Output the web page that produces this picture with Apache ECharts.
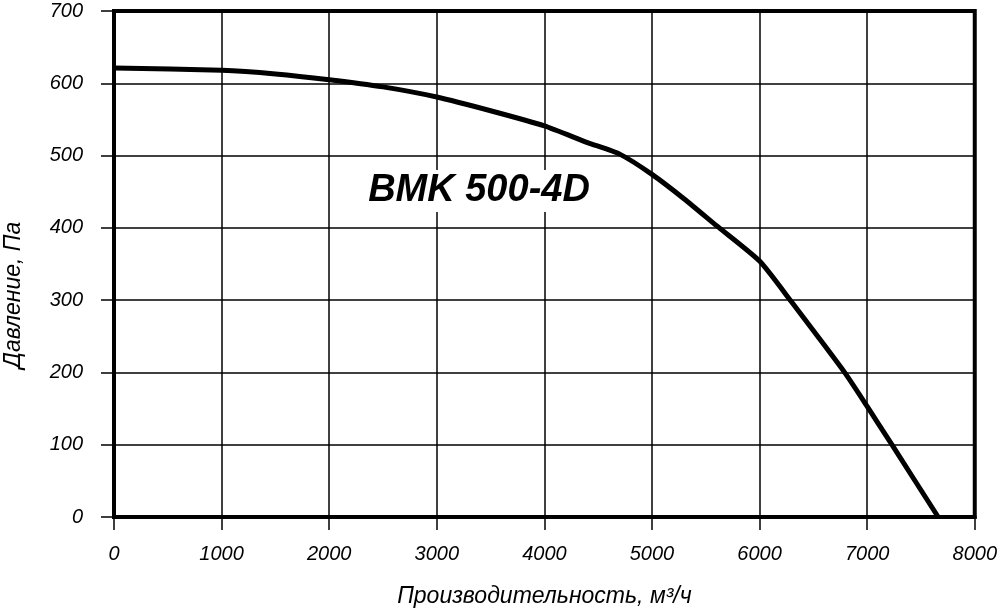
<!DOCTYPE html>
<html><head><meta charset="utf-8">
<script src="https://cdn.jsdelivr.net/npm/echarts@6/dist/echarts.min.js"></script>
<style>html,body{margin:0;padding:0;background:#fff}#c{width:1000px;height:614px}</style>
</head><body><div id="c"></div>
<script>
const flowValues = [0, 1000, 1500, 2000, 2500, 3000, 3500, 4000, 4400, 4700, 5000, 5300, 5600, 6000, 6300, 6550, 6800, 7000, 7230, 7660];
const pressureValues = [621, 618, 613, 605, 595, 581, 562, 541, 518, 502, 474, 440, 403, 354, 297, 248, 198, 153, 100, 0];
const chartTitle = 'BMK 500-4D';
const xAxisName = 'Производительность, м³/ч';
const yAxisName = 'Давление, Па';

const font = '"Liberation Sans", Arial, sans-serif';
const chart = echarts.init(document.getElementById('c'));
chart.setOption({
  animation: false,
  backgroundColor: '#fff',
  grid: {left: 114, right: 25, top: 11, bottom: 97, show: true, borderColor: '#000', borderWidth: 4, backgroundColor: 'transparent'},
  xAxis: {
    type: 'value', min: 0, max: 8000, interval: 1000,
    name: xAxisName, nameLocation: 'middle', nameGap: 68,
    nameTextStyle: {fontFamily: font, fontStyle: 'italic', fontSize: 23, color: '#000'},
    axisLine: {show: true, onZero: false, lineStyle: {color: '#000', width: 4}},
    axisTick: {show: true, length: 13, lineStyle: {color: '#000', width: 1.5}},
    axisLabel: {margin: 27, fontFamily: font, fontStyle: 'italic', fontSize: 20, color: '#000', formatter: v => String(v)},
    splitLine: {show: true, lineStyle: {color: '#000', width: 1.5}}
  },
  yAxis: {
    type: 'value', min: 0, max: 700, interval: 100,
    axisLine: {show: true, onZero: false, lineStyle: {color: '#000', width: 4}},
    axisTick: {show: true, length: 13, lineStyle: {color: '#000', width: 1.5}},
    axisLabel: {margin: 31, fontFamily: font, fontStyle: 'italic', fontSize: 20, color: '#000', formatter: v => String(v)},
    splitLine: {show: true, lineStyle: {color: '#000', width: 1.5}}
  },
  graphic: [
    {type: 'text', x: 14, y: 295, rotation: Math.PI / 2, z: 100,
     style: {text: yAxisName, font: 'italic 23px ' + font, fill: '#000', align: 'center', verticalAlign: 'middle'}},
    {type: 'text', x: 479, y: 191, z: 100,
     style: {text: chartTitle, font: 'italic bold 38px ' + font, fill: '#000', align: 'center', verticalAlign: 'middle',
             backgroundColor: '#fff', padding: [2, 6, 2, 6]}}
  ],
  series: [{
    type: 'line', data: flowValues.map((x, i) => [x, pressureValues[i]]),
    smooth: 0.2, showSymbol: false, symbol: 'none',
    lineStyle: {color: '#000', width: 5}, z: 5
  }]
});
</script></body></html>
